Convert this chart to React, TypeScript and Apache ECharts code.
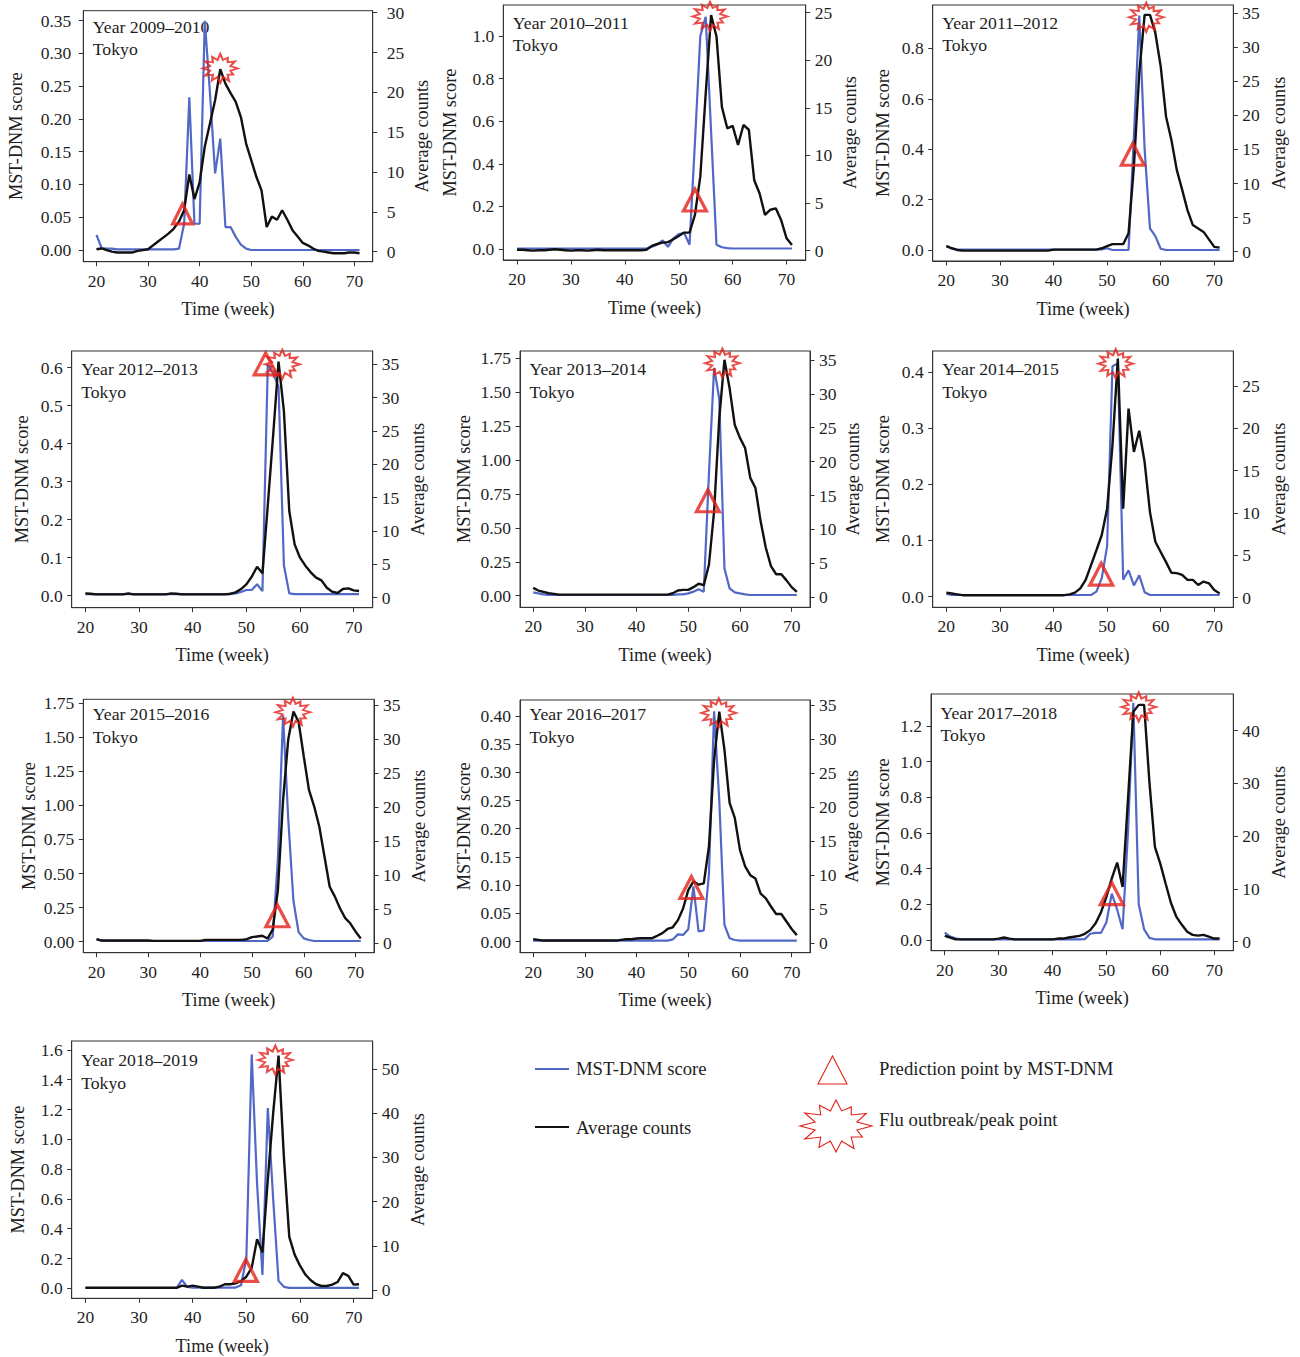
import React, { useEffect, useRef } from "react";
import * as echarts from "echarts";

// ---------------- DATA ----------------
const weeks = [20, 21, 22, 23, 24, 25, 26, 27, 28, 29, 30, 31, 32, 33, 34, 35, 36, 37, 38, 39, 40, 41, 42, 43, 44, 45, 46, 47, 48, 49, 50, 51, 52, 53, 54, 55, 56, 57, 58, 59, 60, 61, 62, 63, 64, 65, 66, 67, 68, 69, 70, 71];

const years = ["2009–2010", "2010–2011", "2011–2012", "2012–2013", "2013–2014", "2014–2015", "2015–2016", "2016–2017", "2017–2018", "2018–2019"];
const city = "Tokyo";

const score0910 = [0.023, 0.003, 0.002, 0.002, 0.001, 0.001, 0.001, 0.001, 0.001, 0.001,
  0.001, 0.001, 0.001, 0.001, 0.001, 0.001, 0.002, 0.04, 0.233, 0.04,
  0.04, 0.35, 0.24, 0.117, 0.17, 0.035, 0.035, 0.02, 0.008, 0.002,
  0, 0, 0, 0, 0, 0, 0, 0, 0, 0,
  0, 0, 0, 0, 0, 0, 0, 0, 0, 0,
  0, 0];
const counts0910 = [0.3, 0.4, 0.2, 0, -0.1, -0.1, -0.1, -0.1, 0.1, 0.2,
  0.3, 0.8, 1.3, 1.8, 2.3, 2.9, 3.8, 5.2, 9.7, 6.6,
  8.7, 13.2, 16.1, 19.0, 22.9, 21.1, 19.9, 18.8, 16.9, 13.6,
  11.5, 9.4, 7.7, 3.1, 4.4, 4.0, 5.2, 4.0, 2.7, 1.9,
  1.1, 0.8, 0.4, 0.1, 0, -0.1, -0.2, -0.2, -0.2, -0.1,
  -0.1, -0.2];

const score1011 = [0.002, 0.002, 0.002, 0.002, 0.002, 0.002, 0.002, 0.002, 0.002, 0.002,
  0.002, 0.002, 0.002, 0.002, 0.002, 0.002, 0.002, 0.002, 0.002, 0.002,
  0.002, 0.002, 0.002, 0.002, 0.002, 0.01, 0.02, 0.04, 0.01, 0.05,
  0.07, 0.075, 0.02, 0.5, 1.0, 1.09, 0.55, 0.02, 0.008, 0.004,
  0.002, 0.002, 0.002, 0.002, 0.002, 0.002, 0.002, 0.002, 0.002, 0.002,
  0.002, 0.002];
const counts1011 = [0.1, 0.1, 0.05, 0, 0.05, 0.05, 0.1, 0.15, 0.1, 0.05,
  0, 0.05, 0.05, 0, 0.05, 0.1, 0.05, 0.05, 0.05, 0.05,
  0.05, 0.05, 0.05, 0.05, 0.1, 0.5, 0.7, 0.85, 0.9, 1.2,
  1.55, 1.9, 1.9, 3.75, 7.8, 16.5, 24.75, 22.5, 15.1, 12.85,
  13.1, 11.1, 13.2, 12.7, 7.4, 6.0, 3.75, 4.3, 4.45, 3.2,
  1.3, 0.6];

const score1112 = [0.016, 0.007, 0.002, 0.002, 0.002, 0.002, 0.002, 0.002, 0.002, 0.002,
  0.002, 0.002, 0.002, 0.002, 0.002, 0.002, 0.002, 0.002, 0.002, 0.002,
  0.002, 0.002, 0.002, 0.002, 0.002, 0.002, 0.002, 0.002, 0.002, 0.002,
  0.007, 0, 0, 0, 0, 0.45, 0.93, 0.4, 0.086, 0.055,
  0.005, 0, 0, 0, 0, 0, 0, 0, 0, 0,
  0, 0];
const counts1112 = [0.8, 0.5, 0.25, 0.15, 0.15, 0.15, 0.15, 0.15, 0.15, 0.15,
  0.15, 0.15, 0.15, 0.15, 0.15, 0.15, 0.15, 0.15, 0.15, 0.15,
  0.3, 0.3, 0.3, 0.3, 0.3, 0.3, 0.3, 0.3, 0.3, 0.5,
  0.8, 1.1, 1.1, 1.1, 2.7, 12.5, 26.2, 34.75, 34.75, 32.1,
  27.2, 19.8, 16.4, 12.0, 9.1, 6.1, 3.9, 3.4, 2.9, 1.8,
  0.7, 0.6];

const score1213 = [0.004, 0.004, 0.004, 0.004, 0.004, 0.004, 0.004, 0.004, 0.004, 0.004,
  0.004, 0.004, 0.004, 0.004, 0.004, 0.004, 0.004, 0.004, 0.004, 0.004,
  0.004, 0.004, 0.004, 0.004, 0.004, 0.004, 0.004, 0.004, 0.006, 0.01,
  0.015, 0.015, 0.03, 0.012, 0.61, 0.585, 0.55, 0.08, 0.006, 0.004,
  0.004, 0.004, 0.004, 0.004, 0.004, 0.004, 0.004, 0.004, 0.004, 0.004,
  0.004, 0.004];
const counts1213 = [0.65, 0.6, 0.5, 0.5, 0.5, 0.5, 0.5, 0.5, 0.65, 0.5,
  0.5, 0.5, 0.5, 0.5, 0.5, 0.5, 0.65, 0.6, 0.5, 0.5,
  0.5, 0.5, 0.5, 0.5, 0.5, 0.5, 0.5, 0.6, 0.8, 1.3,
  2.0, 3.15, 4.65, 3.65, 13.9, 24.4, 35.4, 28, 13, 8,
  6, 4.8, 3.8, 3.0, 2.6, 1.5, 0.9, 0.7, 1.3, 1.4,
  1.1, 1.0];

const score1314 = [0.025, 0.017, 0.01, 0.005, 0.005, 0.005, 0.005, 0.005, 0.005, 0.005,
  0.005, 0.005, 0.005, 0.005, 0.005, 0.005, 0.005, 0.005, 0.005, 0.005,
  0.005, 0.005, 0.005, 0.005, 0.005, 0.005, 0.005, 0.005, 0.01, 0.01,
  0.017, 0.03, 0.047, 0.03, 0.9, 1.68, 1.45, 0.2, 0.054, 0.025,
  0.017, 0.01, 0.005, 0.005, 0.005, 0.005, 0.005, 0.005, 0.005, 0.005,
  0.005, 0.005];
const counts1314 = [1.4, 1.0, 0.8, 0.6, 0.5, 0.4, 0.4, 0.4, 0.4, 0.4,
  0.4, 0.4, 0.4, 0.4, 0.4, 0.4, 0.4, 0.4, 0.4, 0.4,
  0.4, 0.4, 0.4, 0.4, 0.4, 0.4, 0.4, 0.6, 1.0, 1.1,
  1.1, 1.5, 2.0, 1.8, 4.8, 12.7, 26.4, 35.0, 30.8, 25.4,
  23.5, 22.0, 17.6, 16.1, 11.2, 7.3, 4.6, 3.4, 3.4, 2.5,
  1.5, 0.8];

const score1415 = [0.005, 0.003, 0.003, 0.003, 0.003, 0.003, 0.003, 0.003, 0.003, 0.003,
  0.003, 0.003, 0.003, 0.003, 0.003, 0.003, 0.003, 0.003, 0.003, 0.003,
  0.003, 0.003, 0.003, 0.003, 0.003, 0.003, 0.003, 0.003, 0.009, 0.033,
  0.09, 0.41, 0.415, 0.03, 0.047, 0.02, 0.038, 0.008, 0.003, 0.003,
  0.003, 0.003, 0.003, 0.003, 0.003, 0.003, 0.003, 0.003, 0.003, 0.003,
  0.003, 0.003];
const counts1415 = [0.6, 0.5, 0.4, 0.3, 0.3, 0.3, 0.3, 0.3, 0.3, 0.3,
  0.3, 0.3, 0.3, 0.3, 0.3, 0.3, 0.3, 0.3, 0.3, 0.3,
  0.3, 0.3, 0.3, 0.4, 0.6, 1.1, 2.1, 3.85, 5.6, 7.4,
  10.5, 18.0, 28.2, 10.5, 22.3, 17.2, 19.7, 16.0, 10.1, 6.6,
  5.4, 4.2, 2.95, 2.9, 2.7, 2.1, 2.1, 1.5, 1.9, 1.7,
  0.9, 0.5];

const score1516 = [0.017, 0.007, 0.005, 0.005, 0.005, 0.005, 0.005, 0.005, 0.005, 0.005,
  0.005, 0.005, 0.005, 0.005, 0.005, 0.005, 0.005, 0.005, 0.005, 0.005,
  0.005, 0.005, 0.005, 0.005, 0.005, 0.005, 0.005, 0.005, 0.005, 0.005,
  0.005, 0.005, 0.005, 0.005, 0.037, 0.6, 1.66, 0.9, 0.3, 0.07,
  0.024, 0.012, 0.005, 0.005, 0.005, 0.005, 0.005, 0.005, 0.005, 0.005,
  0.005, 0.005];
const counts1516 = [0.6, 0.4, 0.4, 0.4, 0.4, 0.4, 0.4, 0.4, 0.4, 0.4,
  0.4, 0.35, 0.35, 0.35, 0.35, 0.35, 0.35, 0.35, 0.35, 0.35,
  0.35, 0.5, 0.5, 0.5, 0.5, 0.5, 0.5, 0.5, 0.5, 0.6,
  0.9, 1.0, 1.1, 0.7, 2.0, 7.8, 21.0, 29.9, 34.0, 32.5,
  27.4, 22.5, 20.1, 17.1, 12.7, 8.3, 6.85, 5.1, 3.7, 2.9,
  1.7, 0.7];

const score1617 = [0.002, 0.002, 0.002, 0.002, 0.002, 0.002, 0.002, 0.002, 0.002, 0.002,
  0.002, 0.002, 0.002, 0.002, 0.002, 0.002, 0.002, 0.002, 0.002, 0.002,
  0.002, 0.002, 0.002, 0.002, 0.002, 0.002, 0.002, 0.004, 0.013, 0.012,
  0.022, 0.098, 0.018, 0.02, 0.12, 0.408, 0.25, 0.03, 0.006, 0.003,
  0.002, 0.002, 0.002, 0.002, 0.002, 0.002, 0.002, 0.002, 0.002, 0.002,
  0.002, 0.002];
const counts1617 = [0.6, 0.5, 0.4, 0.4, 0.4, 0.4, 0.4, 0.4, 0.4, 0.4,
  0.4, 0.4, 0.4, 0.4, 0.4, 0.4, 0.4, 0.5, 0.6, 0.6,
  0.7, 0.75, 0.75, 0.75, 1.1, 1.5, 2.1, 2.35, 3.4, 5.1,
  7.8, 9.1, 8.6, 8.8, 14.2, 26.9, 34.0, 28.4, 20.6, 18.4,
  13.7, 11.3, 10.0, 9.5, 7.3, 6.6, 5.4, 4.3, 4.3, 3.2,
  2.1, 1.2];

const score1718 = [0.041, 0.019, 0.009, 0.004, 0.004, 0.004, 0.004, 0.004, 0.004, 0.004,
  0.004, 0.004, 0.004, 0.004, 0.004, 0.004, 0.004, 0.004, 0.004, 0.004,
  0.004, 0.004, 0.004, 0.004, 0.004, 0.004, 0.005, 0.035, 0.04, 0.04,
  0.1, 0.26, 0.17, 0.06, 0.6, 1.33, 0.2, 0.06, 0.012, 0.004,
  0.004, 0.004, 0.004, 0.004, 0.004, 0.004, 0.004, 0.004, 0.004, 0.004,
  0.004, 0.004];
const counts1718 = [1.1, 0.8, 0.45, 0.45, 0.45, 0.45, 0.45, 0.45, 0.45, 0.45,
  0.6, 0.8, 0.6, 0.45, 0.45, 0.45, 0.45, 0.45, 0.45, 0.45,
  0.45, 0.6, 0.6, 0.8, 0.95, 1.1, 1.5, 2.2, 3.5, 5.6,
  8.5, 12.0, 15.0, 10.4, 26.9, 43.6, 44.9, 44.9, 30, 18,
  14.8, 11, 7.3, 4.7, 3.2, 1.9, 1.3, 1.15, 1.3, 0.95,
  0.6, 0.6];

const score1819 = [0.002, 0.002, 0.002, 0.002, 0.002, 0.002, 0.002, 0.002, 0.002, 0.002,
  0.002, 0.002, 0.002, 0.002, 0.002, 0.002, 0.002, 0.002, 0.056, 0.01,
  0.004, 0.004, 0.004, 0.004, 0.004, 0.004, 0.004, 0.004, 0.005, 0.02,
  0.2, 1.57, 0.7, 0.09, 1.21, 0.6, 0.05, 0.01, 0.003, 0.003,
  0.003, 0.003, 0.003, 0.003, 0.003, 0.003, 0.003, 0.003, 0.003, 0.003,
  0.003, 0.003];
const counts1819 = [0.5, 0.5, 0.5, 0.5, 0.5, 0.5, 0.5, 0.5, 0.5, 0.5,
  0.5, 0.5, 0.5, 0.5, 0.5, 0.5, 0.5, 0.5, 1.0, 0.75,
  1.0, 0.75, 0.5, 0.5, 0.5, 0.75, 1.3, 1.3, 1.5, 2.0,
  3.0, 5.0, 11.5, 8.5, 25, 40, 53, 30, 12, 8,
  5.5, 3.5, 2.2, 1.3, 0.9, 0.9, 1.2, 1.8, 3.8, 3.2,
  1.2, 1.3];

const scores = [score0910, score1011, score1112, score1213, score1314, score1415, score1516, score1617, score1718, score1819];
const counts = [counts0910, counts1011, counts1112, counts1213, counts1314, counts1415, counts1516, counts1617, counts1718, counts1819];

// prediction (triangle) and peak (star) points
const predWeek = [36.7, 53, 54.8, 53.6, 53.8, 48.9, 54.9, 50.6, 51, 49.9];
const predScore = [0.055, 0.23, 0.38, 0.61, 0.7, 0.04, 0.19, 0.096, 0.26, 0.12];
const peakWeek = [44, 55.8, 57.3, 56.7, 56.6, 51.6, 57.9, 55.9, 56, 55.4];
const peakCount = [23.0, 24.6, 34.4, 35, 34.5, 27.6, 33.9, 33.8, 44.5, 52];

// tick labels
const xTicks = [20, 30, 40, 50, 60, 70];
const scoreTicks = [
  [0, 0.05, 0.1, 0.15, 0.2, 0.25, 0.3, 0.35],
  [0, 0.2, 0.4, 0.6, 0.8, 1.0],
  [0, 0.2, 0.4, 0.6, 0.8],
  [0, 0.1, 0.2, 0.3, 0.4, 0.5, 0.6],
  [0, 0.25, 0.5, 0.75, 1.0, 1.25, 1.5, 1.75],
  [0, 0.1, 0.2, 0.3, 0.4],
  [0, 0.25, 0.5, 0.75, 1.0, 1.25, 1.5, 1.75],
  [0, 0.05, 0.1, 0.15, 0.2, 0.25, 0.3, 0.35, 0.4],
  [0, 0.2, 0.4, 0.6, 0.8, 1.0, 1.2],
  [0, 0.2, 0.4, 0.6, 0.8, 1.0, 1.2, 1.4, 1.6],
];
const scoreDecimals = [2, 1, 1, 1, 2, 1, 2, 2, 1, 1];
const countTicks = [
  [0, 5, 10, 15, 20, 25, 30],
  [0, 5, 10, 15, 20, 25],
  [0, 5, 10, 15, 20, 25, 30, 35],
  [0, 5, 10, 15, 20, 25, 30, 35],
  [0, 5, 10, 15, 20, 25, 30, 35],
  [0, 5, 10, 15, 20, 25],
  [0, 5, 10, 15, 20, 25, 30, 35],
  [0, 5, 10, 15, 20, 25, 30, 35],
  [0, 10, 20, 30, 40],
  [0, 10, 20, 30, 40, 50],
];

// ---------------- LAYOUT ----------------
const BOX = [
  [83.3, 10.7, 289.4, 251],
  [503.3, 5, 302.4, 255],
  [932.7, 5, 300.6, 256],
  [71.7, 351, 301, 256.7],
  [520, 351, 290, 256.3],
  [932.7, 351, 300.6, 256.3],
  [83.3, 699.3, 290.7, 253.4],
  [520, 700, 290, 252.7],
  [931, 694, 302.3, 256.7],
  [71.7, 1041, 301, 257.3],
];
const LEFT_RANGE = [[-0.0179, 0.3653], [-0.052, 1.146], [-0.0436, 0.972], [-0.0316, 0.644], [-0.0855, 1.804], [-0.0189, 0.437], [-0.081, 1.779], [-0.0195, 0.428], [-0.06, 1.38], [-0.067, 1.66]];
const RIGHT_RANGE = [[-1.26, 30.25], [-0.98, 25.8], [-1.37, 36.2], [-1.5, 37], [-1.47, 36.3], [-1.13, 29.1], [-1.38, 35.8], [-1.38, 35.7], [-1.7, 46.96], [-1.88, 56.3]];
const LEFT_NAME_GAP = [67.6, 53.3, 49.4, 49.4, 55.7, 49.4, 54, 55.7, 47.7, 53.4];
const RIGHT_NAME_GAP = [49, 44.3, 46, 45.6, 43.3, 46, 45.3, 41.7, 46, 45.6];
const LEFT_LABEL_MARGIN = [12, 9, 9, 9, 9, 9, 9, 9, 9, 9];
const RIGHT_LABEL_MARGIN = [14, 9, 9, 9, 9, 9, 9, 9, 9, 9];
const TITLE_DY = [16, 17.7, 17.7, 18.3, 18.3, 18, 15, 14.3, 18.7, 19];

const FONT = "Liberation Serif";
const BLUE = "#5168c6";
const BLACK = "#111111";
const RED = "#e2201a";
const AXIS_C = "#333333";
const TEXT_C = "#1e1e1e";

const STAR_PTS = [[100, 40], [79, 46.2], [86.8, 57], [71.2, 57], [75, 74.6], [57.8, 63.2], [50, 80], [42.2, 63.2], [26.3, 72.9], [28.8, 57], [6.7, 60], [21, 46.2], [0, 40], [21, 33.8], [6.7, 20], [28.8, 23], [27, 8.1], [42.2, 16.8], [50, 0], [57.8, 16.8], [71.3, 10.6], [71.2, 23], [92, 20.6], [79, 33.8]];
const STAR_PATH = "path://M" + STAR_PTS.map((p) => p[0] + " " + p[1]).join("L") + "Z";

function buildOption() {
  const grid: any[] = [];
  const xAxis: any[] = [];
  const yAxis: any[] = [];
  const series: any[] = [];
  const graphic: any[] = [];
  const nameStyle = { fontSize: 18.3, fontFamily: FONT, color: TEXT_C };

  BOX.forEach((b, i) => {
    grid.push({ left: b[0], top: b[1], width: b[2], height: b[3], show: true, borderColor: AXIS_C, borderWidth: 1, backgroundColor: "rgba(0,0,0,0)" });
    xAxis.push({
      gridIndex: i, type: "value", min: 17.45, max: 73.55,
      axisLine: { show: true, onZero: false, lineStyle: { color: AXIS_C, width: 1 } },
      axisTick: { show: true, length: 4.5, customValues: xTicks, lineStyle: { color: AXIS_C, width: 1 } },
      axisLabel: { customValues: xTicks, margin: 10, fontSize: 17.5, fontFamily: FONT, color: TEXT_C },
      splitLine: { show: false },
      name: "Time (week)", nameLocation: "middle", nameGap: 38.5, nameTextStyle: nameStyle,
    });
    const dec = scoreDecimals[i];
    yAxis.push({
      gridIndex: i, type: "value", position: "left", min: LEFT_RANGE[i][0], max: LEFT_RANGE[i][1],
      axisLine: { show: true, onZero: false, lineStyle: { color: AXIS_C, width: 1 } },
      axisTick: { show: true, length: 4.5, customValues: scoreTicks[i], lineStyle: { color: AXIS_C, width: 1 } },
      axisLabel: { customValues: scoreTicks[i], margin: LEFT_LABEL_MARGIN[i], fontSize: 17.5, fontFamily: FONT, color: TEXT_C, formatter: (v: number) => v.toFixed(dec) },
      splitLine: { show: false },
      name: "MST-DNM score", nameLocation: "middle", nameRotate: 90, nameGap: LEFT_NAME_GAP[i] - 9, nameTextStyle: nameStyle,
    });
    yAxis.push({
      gridIndex: i, type: "value", position: "right", min: RIGHT_RANGE[i][0], max: RIGHT_RANGE[i][1],
      axisLine: { show: true, onZero: false, lineStyle: { color: AXIS_C, width: 1 } },
      axisTick: { show: true, length: 4.5, customValues: countTicks[i], lineStyle: { color: AXIS_C, width: 1 } },
      axisLabel: { customValues: countTicks[i], margin: RIGHT_LABEL_MARGIN[i], fontSize: 17.5, fontFamily: FONT, color: TEXT_C, formatter: (v: number) => String(Math.round(v)) },
      splitLine: { show: false },
      name: "Average counts", nameLocation: "middle", nameRotate: 90, nameGap: RIGHT_NAME_GAP[i] - 9, nameTextStyle: nameStyle,
    });
    series.push({
      type: "line", xAxisIndex: i, yAxisIndex: 2 * i, silent: true, symbol: "none", showSymbol: false,
      data: weeks.map((w, j) => [w, scores[i][j]]),
      lineStyle: { color: BLUE, width: 2.2 }, z: 2,
    });
    series.push({
      type: "line", xAxisIndex: i, yAxisIndex: 2 * i + 1, silent: true, symbol: "none", showSymbol: false,
      data: weeks.map((w, j) => [w, counts[i][j]]),
      lineStyle: { color: BLACK, width: 2.4 }, z: 3,
    });
    series.push({
      type: "scatter", xAxisIndex: i, yAxisIndex: 2 * i, silent: true, clip: false,
      data: [[predWeek[i], predScore[i]]],
      symbol: "triangle", symbolSize: i === 0 ? [20, 20] : [23, 22],
      itemStyle: { color: "rgba(0,0,0,0)", borderColor: RED, borderWidth: 3.2 }, z: 4,
    });
    series.push({
      type: "scatter", xAxisIndex: i, yAxisIndex: 2 * i + 1, silent: true, clip: false,
      data: [[peakWeek[i], peakCount[i]]],
      symbol: STAR_PATH, symbolSize: [35, 29],
      itemStyle: { color: "rgba(0,0,0,0)", borderColor: RED, borderWidth: 2 }, z: 4,
    });
    const tx = b[0] + 9.5;
    const ty = b[1] + TITLE_DY[i];
    graphic.push({
      type: "text", x: tx, y: ty, silent: true,
      style: { text: "Year " + years[i], font: '17.7px "Liberation Serif"', fill: TEXT_C, align: "left", textAlign: "left", verticalAlign: "middle", textVerticalAlign: "middle" },
    });
    graphic.push({
      type: "text", x: tx, y: ty + 22.6, silent: true,
      style: { text: city, font: '17.7px "Liberation Serif"', fill: TEXT_C, align: "left", textAlign: "left", verticalAlign: "middle", textVerticalAlign: "middle" },
    });
  });

  // legend
  const lf = '18.7px "Liberation Serif"';
  const legendText = (text: string, x: number, y: number) => ({
    type: "text", x, y, silent: true,
    style: { text, font: lf, fill: TEXT_C, align: "left", textAlign: "left", verticalAlign: "middle", textVerticalAlign: "middle" },
  });
  graphic.push({ type: "line", silent: true, shape: { x1: 535, y1: 1069, x2: 569, y2: 1069 }, style: { stroke: BLUE, lineWidth: 2 } });
  graphic.push(legendText("MST-DNM score", 576, 1068));
  graphic.push({ type: "line", silent: true, shape: { x1: 535, y1: 1127, x2: 569, y2: 1127 }, style: { stroke: BLACK, lineWidth: 2 } });
  graphic.push(legendText("Average counts", 576, 1127));
  graphic.push({ type: "polygon", silent: true, shape: { points: [[832.5, 1056], [818, 1084], [847, 1084]] }, style: { stroke: RED, lineWidth: 1.1, fill: "none" } });
  graphic.push(legendText("Prediction point by MST-DNM", 879, 1068));
  graphic.push({
    type: "polygon", silent: true,
    shape: { points: STAR_PTS.map((p) => [800 + p[0] * 0.72, 1100 + p[1] * 0.65]) },
    style: { stroke: RED, lineWidth: 1.1, fill: "none" },
  });
  graphic.push(legendText("Flu outbreak/peak point", 879, 1119));

  return {
    animation: false,
    backgroundColor: "#ffffff",
    textStyle: { fontFamily: FONT },
    grid, xAxis, yAxis, series, graphic,
  };
}

export default function App() {
  const ref = useRef<HTMLDivElement>(null);
  useEffect(() => {
    const chart = echarts.init(ref.current as HTMLDivElement, null, { renderer: "svg" });
    chart.setOption(buildOption() as any);
    return () => chart.dispose();
  }, []);
  return <div ref={ref} style={{ position: "absolute", left: 0, top: 0, width: 1300, height: 1357, background: "#fff" }} />;
}
